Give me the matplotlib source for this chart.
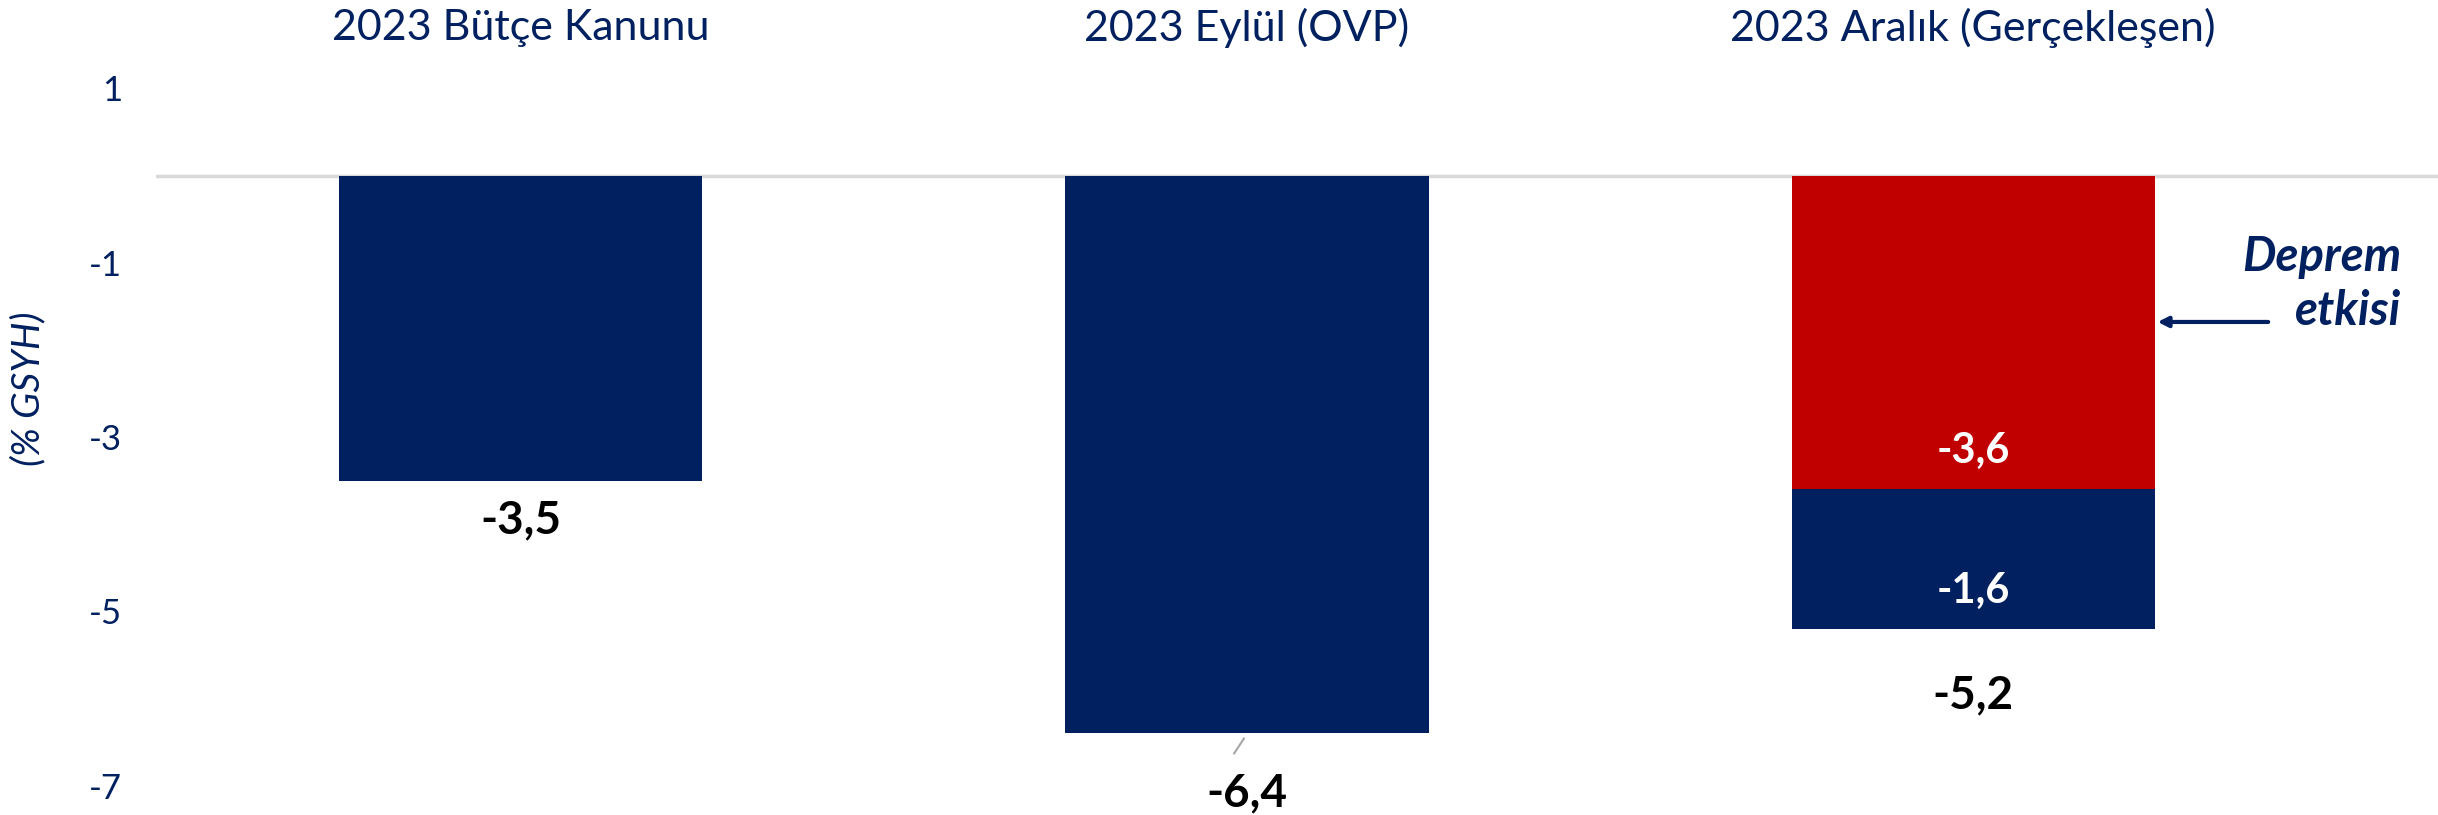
import numpy as np
from matplotlib import pyplot as plt

plt.rcParams['font.family'] = ['Lato', 'DejaVu Sans']

# Data
categories = ['2023 Bütçe Kanunu', '2023 Eylül (OVP)', '2023 Aralık (Gerçekleşen)']
base = [-3.5, -6.4, -1.6]          # navy part
deprem = [0.0, 0.0, -3.6]          # earthquake effect (red)
totals = [-3.5, -6.4, -5.2]
yticks = [1, -1, -3, -5, -7]

navy = '#002060'
red = '#C00000'

fig = plt.figure(figsize=(24.38, 8.15), dpi=100)
ax = fig.add_axes([0.0638, 0.004, 0.9362, 0.941])

x = np.arange(len(categories))
width = 0.5
xmin, xmax = -0.503, 2.64

# red stacked on top (closer to zero), navy below it
ax.bar(x, deprem, width, color=red, zorder=2)
ax.bar(x, base, width, bottom=deprem, color=navy, zorder=2)

ax.axhline(0, color='#d9d9d9', linewidth=2.5, zorder=1)

ax.set_xlim(xmin, xmax)
ax.set_ylim(-7.3, 1.5)
ax.set_yticks(yticks)
ax.set_yticklabels([str(t) for t in yticks])
ax.tick_params(axis='y', length=0, pad=24, labelsize=25, labelcolor=navy)
ax.set_xticks([])
for s in ax.spines.values():
    s.set_visible(False)

# category titles on top
for xi, c in zip(x, categories):
    fig.text(0.0638 + 0.9362 * (xi - xmin) / (xmax - xmin), 0.966, c,
             ha='center', va='center', fontsize=31, color=navy)

# total labels below bars
offsets = [0.46, 0.69, 0.76]
for xi, t, off in zip(x, totals, offsets):
    ax.text(xi, t - off, f'{t:.1f}'.replace('.', ','), ha='center', va='center',
            fontsize=33, fontweight='bold', color='black')

# leader line for the middle bar
ax.annotate('', xy=(x[1] - 0.002, totals[1] - 0.03), xytext=(x[1] - 0.02, totals[1] - 0.26),
            arrowprops=dict(arrowstyle='-', color='#a6a6a6', lw=1.5))

# inner labels on the stacked bar
ax.text(x[2], deprem[2] + 0.44, f'{deprem[2]:.1f}'.replace('.', ','), ha='center', va='center',
        fontsize=30, fontweight='bold', color='white', zorder=3)
ax.text(x[2], deprem[2] + base[2] / 2 - 0.37, f'{base[2]:.1f}'.replace('.', ','), ha='center',
        va='center', fontsize=30, fontweight='bold', color='white', zorder=3)

# annotation
ax.text(2.59, -0.93, 'Deprem', ha='right', va='center', fontsize=34,
        fontweight='bold', fontstyle='italic', color=navy)
ax.text(2.59, -1.55, 'etkisi', ha='right', va='center', fontsize=34,
        fontweight='bold', fontstyle='italic', color=navy)
ax.annotate('', xy=(x[2] + width / 2, -1.68), xytext=(2.41, -1.68),
            arrowprops=dict(arrowstyle='-|>,head_length=0.6,head_width=0.3', color=navy, lw=3))

fig.text(0.0115, 0.523, '(% GSYH)', rotation=90, ha='center', va='center',
         fontsize=28, fontstyle='italic', color=navy)

plt.savefig('out.png')
